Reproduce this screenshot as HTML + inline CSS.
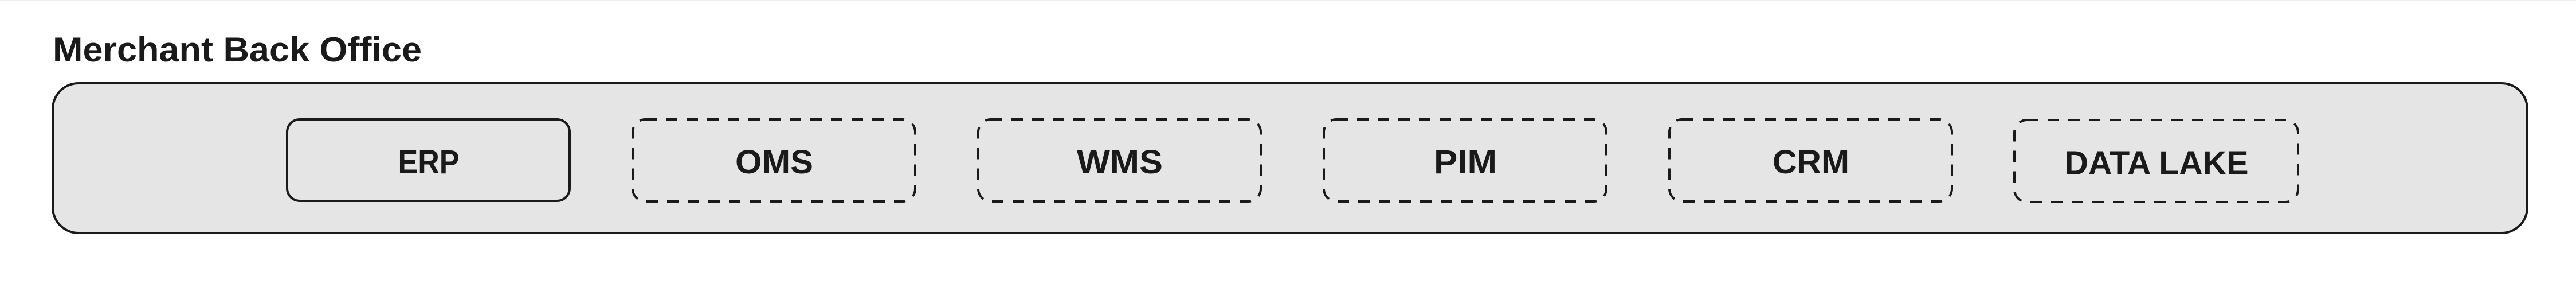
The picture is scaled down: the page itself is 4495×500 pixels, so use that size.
<!DOCTYPE html>
<html><head><meta charset="utf-8"><style>
html,body{margin:0;padding:0;background:#fff;width:4495px;height:500px;overflow:hidden}
svg{display:block}
text{font-family:"Liberation Sans",sans-serif;font-weight:bold;fill:#1a1a1a}
</style></head><body>
<svg width="4495" height="500" viewBox="0 0 4495 500" xmlns="http://www.w3.org/2000/svg">
<rect x="0" y="0" width="4495" height="2" fill="#eeeeee"/>
<text x="92" y="107" font-size="60" textLength="644" lengthAdjust="spacingAndGlyphs">Merchant Back Office</text>
<rect x="92" y="145" width="4318" height="261" rx="45" ry="45" fill="#e5e5e5" stroke="#1a1a1a" stroke-width="4"/>
<rect x="501" y="208" width="493" height="142" rx="22" fill="none" stroke="#1a1a1a" stroke-width="4"/>
<g fill="none" stroke="#1a1a1a" stroke-width="4" stroke-dasharray="20 16">
<rect x="1104" y="208" width="493" height="143" rx="22"/>
<rect x="1707" y="208" width="493" height="143" rx="22"/>
<rect x="2310" y="208" width="493" height="143" rx="22"/>
<rect x="2913" y="208" width="493" height="143" rx="22"/>
<rect x="3515" y="209" width="495" height="143" rx="22"/>
</g>
<g font-size="58" text-anchor="middle">
<text x="748" y="302" textLength="107" lengthAdjust="spacingAndGlyphs">ERP</text>
<text x="1351" y="302" textLength="136" lengthAdjust="spacingAndGlyphs">OMS</text>
<text x="1954" y="302" textLength="150" lengthAdjust="spacingAndGlyphs">WMS</text>
<text x="2557" y="302" textLength="110" lengthAdjust="spacingAndGlyphs">PIM</text>
<text x="3160" y="302" textLength="134" lengthAdjust="spacingAndGlyphs">CRM</text>
<text x="3763" y="304" textLength="321" lengthAdjust="spacingAndGlyphs">DATA LAKE</text>
</g>
</svg>
</body></html>
